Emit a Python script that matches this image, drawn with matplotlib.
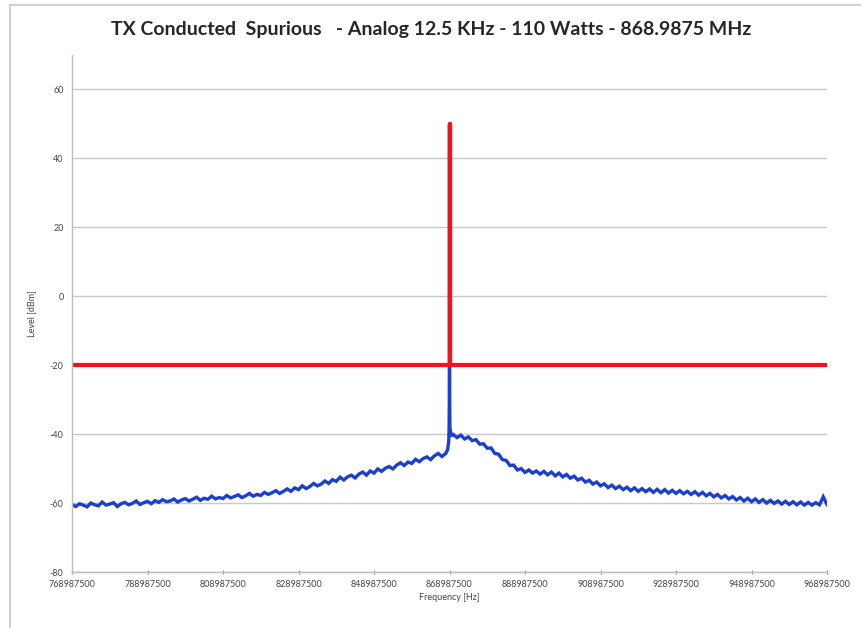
import numpy as np
import matplotlib
matplotlib.use("Agg")
import matplotlib.pyplot as plt
from matplotlib.lines import Line2D

# carrier and scan range
carrier_hz = 868987500
tick_hz = [768987500, 788987500, 808987500, 828987500, 848987500, 868987500,
           888987500, 908987500, 928987500, 948987500, 968987500]
yticks = [-80, -60, -40, -20, 0, 20, 40, 60]

# measured level below carrier, 1 MHz steps from -100 MHz to -1 MHz
level_left = [
    -60.4, -61.0, -60.2, -60.6, -61.1, -60.0, -60.5, -60.8, -59.7, -60.6,
    -60.3, -59.9, -61.0, -60.2, -59.8, -60.5, -60.1, -59.4, -60.4, -59.9,
    -59.5, -60.2, -59.3, -59.8, -59.0, -59.6, -59.4, -58.8, -59.7, -59.1,
    -58.7, -59.4, -58.9, -58.3, -59.2, -58.6, -58.9, -58.0, -58.8, -58.4,
    -58.7, -57.8, -58.5, -58.1, -57.6, -58.4, -57.9, -57.2, -58.0, -57.5,
    -57.8, -56.9, -57.5, -57.0, -56.4, -57.2, -56.6, -55.9, -56.6, -55.6,
    -56.1, -55.0, -55.8, -55.2, -54.3, -55.0, -54.5, -53.6, -54.3, -53.2,
    -53.7, -52.5, -53.3, -52.4, -51.9, -52.7, -51.6, -51.0, -51.9, -50.7,
    -51.3, -50.1, -50.8, -49.9, -49.4, -50.1, -49.0, -48.3, -49.1, -48.1,
    -48.5, -47.3, -48.0, -47.1, -46.6, -47.4, -46.3, -45.6, -46.5, -45.6,
]
# around the carrier (offsets in MHz)
peak_offset = [-0.5, -0.2, -0.1, -0.05, 0.0, 0.05, 0.1, 0.3, 0.6]
peak_level = [-44.5, -42.0, -38.0, -30.0, 50.0, -30.0, -38.0, -39.5, -40.3]
# above carrier, 1 MHz steps from +1 MHz to +100 MHz
level_right = [
    -40.1, -41.0, -40.3, -41.4, -40.8, -41.9, -41.6, -42.9, -42.8, -44.1,
    -44.0, -45.6, -45.8, -47.4, -47.6, -49.1, -49.0, -50.4, -50.0, -51.1,
    -50.4, -51.3, -50.7, -51.6, -50.8, -51.8, -51.0, -52.1, -51.3, -52.4,
    -51.7, -52.8, -52.2, -53.3, -52.8, -53.9, -53.4, -54.5, -53.9, -55.0,
    -54.4, -55.5, -54.8, -55.8, -55.1, -56.1, -55.4, -56.4, -55.6, -56.6,
    -55.8, -56.7, -55.9, -56.9, -56.0, -57.0, -56.1, -57.1, -56.3, -57.2,
    -56.4, -57.3, -56.6, -57.5, -56.7, -57.7, -56.9, -57.9, -57.2, -58.2,
    -57.5, -58.5, -57.8, -58.8, -58.1, -59.1, -58.4, -59.4, -58.6, -59.6,
    -58.8, -59.8, -59.0, -60.0, -59.2, -60.1, -59.4, -60.3, -59.5, -60.4,
    -59.6, -60.5, -59.7, -60.6, -59.8, -60.6, -59.9, -60.5, -58.2, -60.4,
]

# limit line: -20 dBm across the band plus the carrier marker up to 50 dBm
limit_x = [768987500, 868987500, 868987500, 868987500, 968987500]
limit_y = [-20, -20, 50, -20, -20]

offsets = np.concatenate([np.arange(-100, 0), peak_offset, np.arange(1, 101)])
freq = carrier_hz + offsets * 1e6
level = np.concatenate([level_left, peak_level, level_right])

plt.rcParams['font.family'] = ['Lato', 'DejaVu Sans']

fig = plt.figure(figsize=(8.62, 6.28), dpi=100)
ax = fig.add_axes([72 / 862, 1 - 572 / 628, (827 - 72) / 862, (572 - 55) / 628])

ax.plot(freq, level, color='#1c3fcf', lw=2.4, solid_joinstyle='miter')
ax.plot(limit_x, limit_y, color='#f0141e', lw=3.0)

ax.set_xlim(768987500, 968987500)
ax.set_ylim(-80, 70)
ax.set_xticks(tick_hz)
ax.set_xticklabels([str(t) for t in tick_hz])
ax.set_yticks(yticks)
ax.set_yticklabels([str(t) for t in yticks])
ax.tick_params(axis='both', labelsize=6.5, colors='#888888', length=3,
               width=0.8, labelcolor='#444444')
ax.tick_params(axis='x', direction='inout', pad=4)
ax.tick_params(axis='y', length=0, pad=6)

ax.grid(axis='y', color='#c8c8c8', lw=1.0)
ax.set_axisbelow(True)
for s in ['top', 'right']:
    ax.spines[s].set_visible(False)
for s in ['left', 'bottom']:
    ax.spines[s].set_color('#bdbdbd')
    ax.spines[s].set_linewidth(1.0)

ax.set_xlabel('Frequency [Hz]', fontsize=6.5, color='#444444', labelpad=3)
ax.set_ylabel('Level [dBm]', fontsize=6.5, color='#444444', labelpad=10)

fig.text(0.5, 1 - 30 / 628, 'TX Conducted  Spurious   - Analog 12.5 KHz - 110 Watts - 868.9875 MHz',
         ha='center', va='center', fontsize=14, fontweight='bold', color='#262626')

# chart frame (top and left edges visible)
fig.add_artist(Line2D([10 / 862, 10 / 862], [0, 1 - 5 / 628], transform=fig.transFigure,
                      color='#c8c8c8', lw=1.2))
fig.add_artist(Line2D([10 / 862, 1], [1 - 5 / 628, 1 - 5 / 628], transform=fig.transFigure,
                      color='#c8c8c8', lw=1.2))

fig.savefig('out.png', dpi=100)
